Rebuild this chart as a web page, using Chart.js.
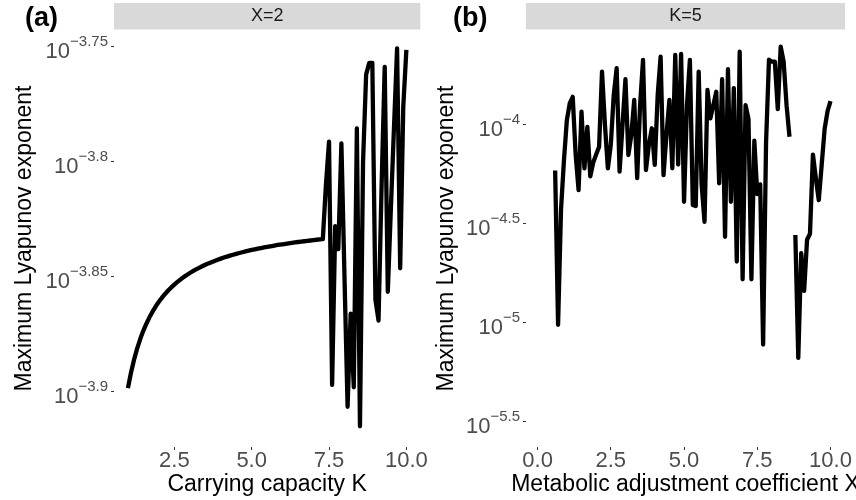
<!DOCTYPE html>
<html lang="en">
<head>
<meta charset="utf-8">
<title>Maximum Lyapunov exponent</title>
<script src="https://cdn.jsdelivr.net/npm/chart.js"></script>
<style>
  body { margin: 0; background: #fff; }
  #wrap { display: flex; width: 856px; height: 500px; }
  canvas { display: block; }
</style>
</head>
<body>
<div id="wrap">
  <canvas id="chartA" width="428" height="500"></canvas>
  <canvas id="chartB" width="428" height="500"></canvas>
</div>
<script>
// panel (a): X=2, carrying capacity K on x
const kValues = [
  1.0, 1.1, 1.2, 1.3, 1.4, 1.5, 1.6, 1.7, 1.8, 1.9,
  2.0, 2.1, 2.2, 2.3, 2.4, 2.5, 2.6, 2.7, 2.8, 2.9,
  3.0, 3.1, 3.2, 3.3, 3.4, 3.5, 3.6, 3.7, 3.8, 3.9,
  4.0, 4.1, 4.2, 4.3, 4.4, 4.5, 4.6, 4.7, 4.8, 4.9,
  5.0, 5.1, 5.2, 5.3, 5.4, 5.5, 5.6, 5.7, 5.8, 5.9,
  6.0, 6.1, 6.2, 6.3, 6.4, 6.5, 6.6, 6.7, 6.8, 6.9,
  7.0, 7.1, 7.2, 7.3, 7.4, 7.5, 7.6, 7.7, 7.8, 7.9,
  8.0, 8.1, 8.2, 8.3, 8.4, 8.5, 8.6, 8.7, 8.8, 8.9,
  9.0, 9.1, 9.2, 9.3, 9.4, 9.5, 9.6, 9.7, 9.8, 9.9,
  10.0
];
// values in units of 1e-4
const lyapA = [
  1.2635, 1.2835, 1.3004, 1.3149, 1.3275, 1.3385, 1.3481, 1.3567, 1.3644, 1.3714,
  1.3776, 1.3833, 1.3885, 1.3932, 1.3976, 1.4016, 1.4054, 1.4088, 1.4121, 1.4151,
  1.4179, 1.4205, 1.4230, 1.4253, 1.4275, 1.4296, 1.4316, 1.4334, 1.4352, 1.4369,
  1.4385, 1.4400, 1.4414, 1.4428, 1.4441, 1.4454, 1.4466, 1.4477, 1.4489, 1.4499,
  1.4510, 1.4519, 1.4529, 1.4538, 1.4547, 1.4555, 1.4563, 1.4571, 1.4579, 1.4586,
  1.4593, 1.4600, 1.4607, 1.4613, 1.4620, 1.4626, 1.4632, 1.4637, 1.4643, 1.4648,
  1.4653, 1.4659, 1.4664, 1.4668, 1.5488, 1.6170, 1.2676, 1.4859, 1.4521, 1.6144,
  1.4125, 1.2402, 1.3614, 1.2647, 1.6387, 1.2162, 1.5849, 1.7298, 1.7499, 1.7499,
  1.3804, 1.3520, 1.5488, 1.7430, 1.3915, 1.5135, 1.6406, 1.7754, 1.4246, 1.6750,
  1.7726
];

// panel (b): K=5, metabolic adjustment coefficient X on x
const xValues = [
  0.6, 0.7, 0.8, 0.9,
  1.0, 1.1, 1.2, 1.3, 1.4, 1.5, 1.6, 1.7, 1.8, 1.9,
  2.0, 2.1, 2.2, 2.3, 2.4, 2.5, 2.6, 2.7, 2.8, 2.9,
  3.0, 3.1, 3.2, 3.3, 3.4, 3.5, 3.6, 3.7, 3.8, 3.9,
  4.0, 4.1, 4.2, 4.3, 4.4, 4.5, 4.6, 4.7, 4.8, 4.9,
  5.0, 5.1, 5.2, 5.3, 5.4, 5.5, 5.6, 5.7, 5.8, 5.9,
  6.0, 6.1, 6.2, 6.3, 6.4, 6.5, 6.6, 6.7, 6.8, 6.9,
  7.0, 7.1, 7.2, 7.3, 7.4, 7.5, 7.6, 7.7, 7.8, 7.9,
  8.0, 8.1, 8.2, 8.3, 8.4, 8.5, 8.6, 8.7, 8.8, 8.9,
  9.0, 9.1, 9.2, 9.3, 9.4, 9.5, 9.6, 9.7, 9.8, 9.9,
  10.0
];
// values in units of 1e-4, null = no value
const lyapB = [
  0.589, 0.0977, 0.372, 0.661,
  1.059, 1.288, 1.387, 0.708, 0.468, 1.167, 0.603, 0.977, 0.550, 0.646,
  0.708, 0.776, 1.862, 1.000, 0.603, 0.794, 1.413, 1.936, 0.581, 1.000,
  1.702, 0.705, 0.891, 1.337, 0.538, 1.259, 2.133, 0.592, 0.794, 0.962,
  0.628, 1.413, 2.213, 0.558, 0.891, 1.337, 0.604, 2.259, 0.631, 2.286,
  0.409, 1.259, 2.133, 0.394, 0.389, 1.862, 0.501, 0.324, 1.503, 1.081,
  1.259, 1.472, 0.507, 1.702, 0.272, 1.914, 0.409, 1.535, 0.204, 2.344,
  0.166, 1.259, 1.072, 0.166, 0.832, 0.447, 0.501, 0.0776, 0.813, 2.138,
  2.089, 2.089, 1.202, 2.489, 2.089, 1.259, 0.871, null, 0.278, 0.0664,
  0.225, 0.145, 0.263, 0.282, 0.708, 0.537, 0.417, 0.631, 0.955, 1.175,
  1.318
];

// tick exponents (labels shown as 10^e) and x ticks
const yTicksA = [-3.9, -3.85, -3.8, -3.75];
const yTicksB = [-5.5, -5, -4.5, -4];
const xTicksA = [2.5, 5, 7.5, 10];
const xTicksB = [0, 2.5, 5, 7.5, 10];

const FONT = '"Liberation Sans", Arial, Helvetica, sans-serif';

const decor = {
  id: 'decor',
  afterDraw(chart, args, opts) {
    const { ctx, chartArea: a } = chart;
    const ys = chart.scales.y;
    ctx.save();

    // facet strip
    ctx.fillStyle = '#d9d9d9';
    ctx.fillRect(a.left, 3, a.right - a.left, 26.5);
    ctx.fillStyle = '#1a1a1a';
    ctx.font = '18px ' + FONT;
    ctx.textAlign = 'center';
    ctx.textBaseline = 'middle';
    ctx.fillText(opts.strip, (a.left + a.right) / 2, 16.5);

    // panel tag
    ctx.fillStyle = '#000';
    ctx.font = 'bold 27px ' + FONT;
    ctx.textAlign = 'left';
    ctx.textBaseline = 'alphabetic';
    ctx.fillText(opts.tag, 25, 26);

    // y tick labels 10^e
    ctx.fillStyle = '#4d4d4d';
    ctx.textAlign = 'right';
    opts.yTicks.forEach(e => {
      const y = ys.getPixelForValue(Math.pow(10, e));
      const sup = '\u2212' + Math.abs(e);
      const xr = a.left - 6;
      ctx.font = '15px ' + FONT;
      ctx.fillText(sup, xr, y - 0.5);
      const w = ctx.measureText(sup).width;
      ctx.font = '22px ' + FONT;
      ctx.fillText('10', xr - w, y + 11.5);
    });

    // axis titles
    ctx.fillStyle = '#000';
    ctx.font = '23px ' + FONT;
    ctx.textAlign = 'center';
    ctx.fillText(opts.xTitle, (a.left + a.right) / 2, 490.5);
    ctx.translate(opts.yTitleX, (a.top + a.bottom) / 2);
    ctx.rotate(-Math.PI / 2);
    ctx.fillText('Maximum Lyapunov exponent', 0, 0);
    ctx.restore();
  }
};

function makeChart(id, p) {
  const points = p.xs.map((x, i) => ({ x: x, y: p.ys[i] === null ? null : p.ys[i] * 1e-4 }));
  return new Chart(document.getElementById(id), {
    type: 'line',
    data: {
      datasets: [{
        data: points,
        borderColor: '#000',
        borderWidth: 4.3,
        borderJoinStyle: 'round',
        borderCapStyle: 'butt',
        pointRadius: 0,
        fill: false,
        tension: 0,
        spanGaps: false
      }]
    },
    options: {
      responsive: false,
      animation: false,
      events: [],
      layout: { autoPadding: false, padding: { left: 0, right: p.padRight, top: 30, bottom: 0 } },
      plugins: {
        legend: { display: false },
        tooltip: { enabled: false },
        decor: { strip: p.strip, tag: p.tag, yTicks: p.yTicks, xTitle: p.xTitle, yTitleX: p.yTitleX }
      },
      scales: {
        x: {
          type: 'linear',
          min: p.xMin,
          max: p.xMax,
          afterBuildTicks: s => { s.ticks = p.xTicks.map(v => ({ value: v })); },
          afterFit: s => { s.height = 53; },
          ticks: {
            autoSkip: false,
            maxRotation: 0,
            padding: 0,
            color: '#4d4d4d',
            font: { family: FONT, size: 22, lineHeight: 1 },
            callback: v => Number(v).toFixed(1)
          },
          grid: { drawOnChartArea: false, tickLength: 3, color: '#333333' },
          border: { display: false }
        },
        y: {
          type: 'logarithmic',
          min: Math.pow(10, p.eMin),
          max: Math.pow(10, p.eMax),
          afterBuildTicks: s => { s.ticks = p.yTicks.map(e => ({ value: Math.pow(10, e) })); },
          afterFit: s => { s.width = p.yWidth; },
          ticks: { display: false },
          grid: { drawOnChartArea: false, tickLength: 3, color: '#333333' },
          border: { display: false }
        }
      }
    },
    plugins: [decor]
  });
}

makeChart('chartA', {
  xs: kValues, ys: lyapA,
  xMin: 0.55, xMax: 10.45, eMin: -3.924, eMax: -3.7427,
  xTicks: xTicksA, yTicks: yTicksA,
  yWidth: 114, padRight: 5,
  strip: 'X=2', tag: '(a)', xTitle: 'Carrying capacity K', yTitleX: 31
});

makeChart('chartB', {
  xs: xValues, ys: lyapB,
  xMin: -0.395, xMax: 10.495, eMin: -5.628, eMax: -3.52,
  xTicks: xTicksB, yTicks: yTicksB,
  yWidth: 98, padRight: 11,
  strip: 'K=5', tag: '(b)', xTitle: 'Metabolic adjustment coefficient X', yTitleX: 24.5
});
</script>
</body>
</html>
